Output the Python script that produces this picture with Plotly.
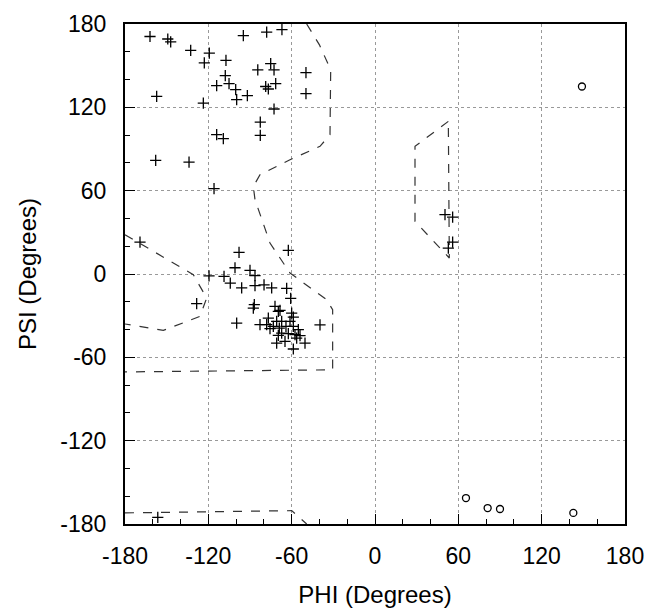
import plotly.graph_objects as go

# === Datos: residuos (phi, psi) ===
cross_phi = [-162, -149.2, -147.1, -132.7, -119.3, -122.9, -107.3, -94.8, -78, -67,
             -107.8, -114, -105.1, -100.3, -99.6, -91.9, -84.4, -75.1, -72.7, -78.7,
             -76.8, -71.5, -49.7, -49.7, -157.2, -123.6, -72.7, -82.6, -82.6, -114,
             -109.2, -157.9, -133.9, -115.9,
             -169.2, -97.9, -100.8, -90, -86.4, -119.5, -108.7, -104.2, -96, -86.4,
             -79.9, -74.4, -62.4, -63.6, -60.7, -128.4, -86.9, -87.6, -99.6, -39.6,
             -72, -68.4, -69.6, -60, -58.8, -76.8, -70.8, -61.2, -82.8, -78,
             -73.2, -68.9, -64.1, -58.8, -55.2, -75.6, -67.2, -62.4, -69.6, -57.6,
             -54, -56.4, -50.4, -70.8, -64.8, -58.8, -67.2,
             50.4, 55.9, 55.9, 52.8, -156.4]
cross_psi = [171, 169.2, 167.2, 161, 159, 152, 153.8, 171.6, 174.2, 176,
             142.8, 135.6, 137, 132.7, 125.5, 128.4, 147, 151.4, 147, 135,
             133.2, 137, 145, 129.8, 127.9, 123, 118.8, 109.4, 99.8, 100.3,
             97.4, 81.8, 80.6, 61.4,
             23, 15.6, 4.5, 2.6, -1.2, -1.4, -1.7, -6.5, -10, -8.4,
             -7.9, -10, 17, -10.4, -17.6, -21.4, -22.1, -24.5, -35.3, -36.7,
             -23.3, -26.2, -26.9, -28.1, -31, -31.7, -34.1, -34.1, -36.5, -36.5,
             -37.7, -38.9, -37.7, -37.7, -40.1, -39.4, -42.5, -43, -44.2, -43.7,
             -44.4, -46.1, -49.7, -49.7, -48.5, -54, -34.1,
             42.7, 41, 23, 18.7, -175.2]

circle_phi = [149, 65.5, 81.1, 90, 142.8]
circle_psi = [135, -161.3, -168.5, -169.2, -172]

# === Contornos de regiones permitidas ===
region_a_phi = [-49.2, -40, -31.9, -31.9, -32.4, -39.6, -61.2, -82.8, -87.6, -86.4,
                -75.6, -61.2, -34.8, -30.5, -30.5, -180]
region_a_psi = [180, 165, 147, 120.7, 100.3, 91.9, 82.3, 71.5, 63, 53.5,
                22.3, 0.7, -18.5, -25.7, -69, -70.5]

region_b_phi = [-180, -130.8, -121.2, -126, -152.4, -176.4, -180]
region_b_psi = [28.3, -0.5, -17.3, -30.5, -40.6, -36.5, -36]

region_c_phi = [-180, -60, -49.2]
region_c_psi = [-172, -170.4, -180]

region_d_phi = [52.8, 28.8, 28.8, 53.5, 52.8]
region_d_psi = [109.9, 91.9, 37.9, 11.5, 109.9]

regions = [(region_a_phi, region_a_psi), (region_b_phi, region_b_psi),
           (region_c_phi, region_c_psi), (region_d_phi, region_d_psi)]

tick_vals = [-180, -120, -60, 0, 60, 120, 180]
tick_text = ["-180", "-120", "-60", "0", "60", "120", "180"]

fig = go.Figure()

for rphi, rpsi in regions:
    fig.add_trace(go.Scatter(x=rphi, y=rpsi, mode="lines",
                             line=dict(color="#333333", width=1.2, dash="dash"),
                             hoverinfo="skip"))

fig.add_trace(go.Scatter(x=cross_phi, y=cross_psi, mode="markers",
                         marker=dict(symbol="cross-thin", size=8, color="black",
                                     line=dict(color="black", width=1.3))))
fig.add_trace(go.Scatter(x=circle_phi, y=circle_psi, mode="markers",
                         marker=dict(symbol="circle-open", size=7, color="black",
                                     line=dict(color="black", width=1.3))))

axis_common = dict(
    range=[-180, 180], tickmode="array", tickvals=tick_vals, ticktext=tick_text,
    showline=True, linecolor="black", linewidth=2, mirror=True,
    ticks="inside", ticklen=10, tickcolor="black", tickwidth=1.2,
    minor=dict(tickmode="linear", tick0=-180, dtick=20, ticks="inside", ticklen=5,
               tickcolor="black", showgrid=False),
    showgrid=True, gridcolor="#999999", griddash="dot", gridwidth=1,
    zeroline=False, automargin=False,
    tickfont=dict(family="Liberation Sans", size=23, color="black"),
)

fig.update_layout(
    width=647, height=609,
    margin=dict(l=125, r=22, t=24, b=85),
    paper_bgcolor="white", plot_bgcolor="white",
    showlegend=False,
    font=dict(family="Liberation Sans", color="black"),
    xaxis=dict(axis_common, ticklabelstandoff=10,
               title=dict(text="PHI (Degrees)", font=dict(size=24), standoff=19)),
    yaxis=dict(axis_common, ticklabelstandoff=12,
               title=dict(text="PSI (Degrees)", font=dict(size=24), standoff=17)),
)

# quitar el margen por defecto del body para que la figura ocupe toda la ventana
fig.write_html("out.html",
               config={"displayModeBar": False},
               post_script="document.body.style.margin='0';"
                           "document.documentElement.style.overflow='hidden';")
